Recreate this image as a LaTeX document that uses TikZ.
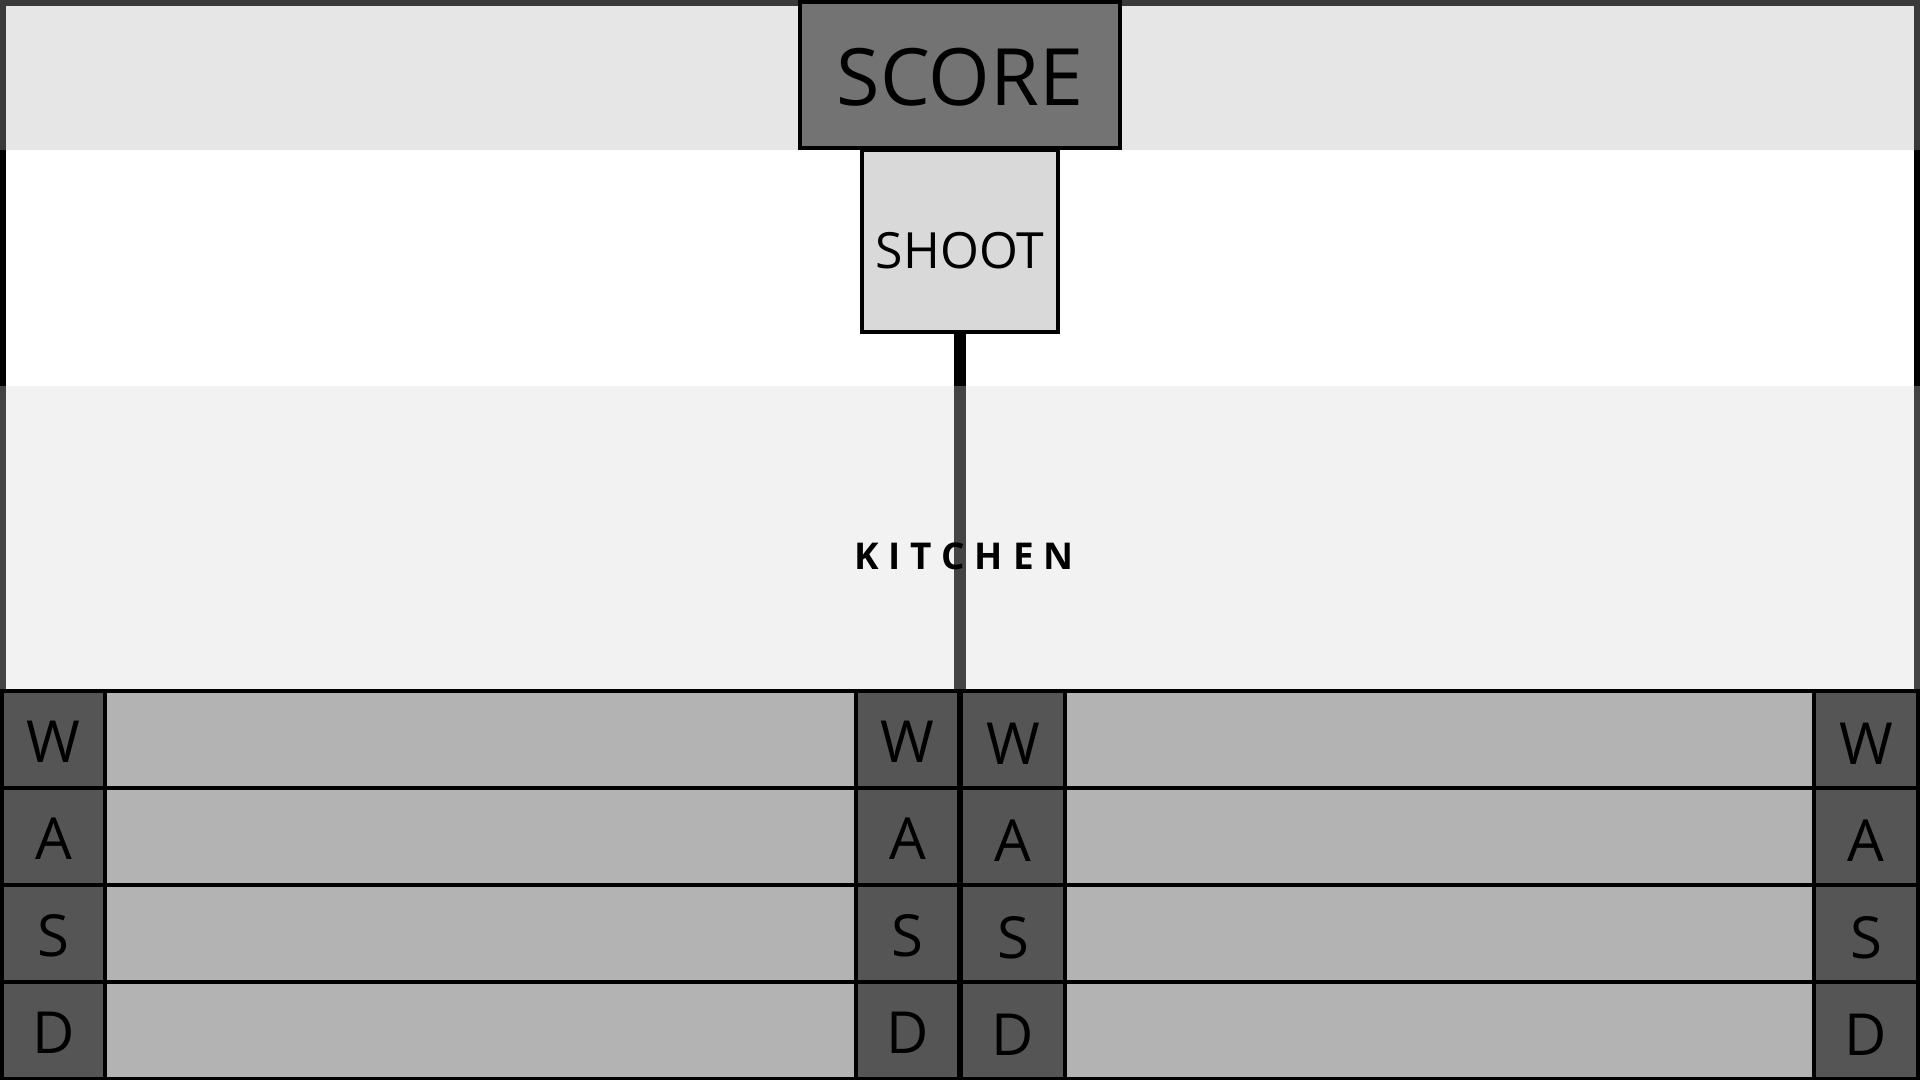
\documentclass[tikz,border=0pt]{standalone}
\usepackage{fontspec}
\setmainfont{Open Sans}
\newfontfamily\kitchenfont{Open Sans}[LetterSpace=27]
\definecolor{edgetop}{HTML}{3A3A3A}
\definecolor{edgemid}{HTML}{444444}
\definecolor{topband}{HTML}{E6E6E6}
\definecolor{kitband}{HTML}{F2F2F2}
\definecolor{scorefill}{HTML}{737373}
\definecolor{shootfill}{HTML}{D9D9D9}
\definecolor{keyfill}{HTML}{555555}
\definecolor{barfill}{HTML}{B3B3B3}
\begin{document}
\begin{tikzpicture}[x=0.01cm,y=-0.01cm,
  cell/.style={draw=black, line width=0.035cm, inner sep=0pt, minimum height=0.97cm},
  keycell/.style={cell, fill=keyfill},
  barcell/.style={cell, fill=barfill},
  keylabel/.style={inner sep=0pt, font=\fontsize{16.5}{19}\selectfont},
  bigbox/.style={draw=black, line width=0.035cm, inner sep=0pt},
  stem/.style={line width=0.12cm}
]
\useasboundingbox (0,0) rectangle (1920,1080);
% bands
\fill[topband] (0,0) rectangle (1920,150);
\fill[edgetop] (0,0) rectangle (1920,6);
\fill[edgetop] (0,0) rectangle (6,150);
\fill[edgetop] (1914,0) rectangle (1920,150);
\fill[white] (0,150) rectangle (1920,386);
\fill[black] (0,150) rectangle (6,386);
\fill[black] (1914,150) rectangle (1920,386);
\fill[kitband] (0,386) rectangle (1920,691);
\fill[edgemid] (0,386) rectangle (6,691);
\fill[edgemid] (1914,386) rectangle (1920,691);
% shoot box and stem
\node[bigbox, fill=shootfill, minimum width=1.96cm, minimum height=1.82cm] (shoot) at (960,241) {};
\node (shoottext) at (960,250.5) {\fontsize{14.2}{17}\selectfont SHOOT};
\coordinate (stemmid) at (960,386);
\coordinate (stemend) at (960,691);
\draw[stem, black] (shoot.south) -- (stemmid);
\draw[stem, edgemid] (stemmid) -- (stemend);
% score
\node[bigbox, fill=scorefill, minimum width=3.2cm, minimum height=1.46cm] (score) at (960,75) {};
\node (scoretext) at (960,77) {\fontsize{22.5}{26}\selectfont SCORE};
% grid
\foreach \l [count=\i] in {W,A,S,D} {
  \pgfmathsetmacro\cy{691+97*(\i-0.5)}
  \pgfmathsetmacro\ly{\cy+2}
  \pgfmathsetmacro\ry{\cy+4}
  \node[keycell, minimum width=1.03cm] (lk1-\l) at (53.5,\cy) {};
  \node[barcell, minimum width=7.51cm] (lbar-\l) at (480.5,\cy) {};
  \node[keycell, minimum width=1.03cm] (lk2-\l) at (907.5,\cy) {};
  \node[keycell, minimum width=1.04cm] (rk1-\l) at (1013,\cy) {};
  \node[barcell, minimum width=7.49cm] (rbar-\l) at (1439.5,\cy) {};
  \node[keycell, minimum width=1.04cm] (rk2-\l) at (1866,\cy) {};
  \node[keylabel] (lk1t-\l) at (53.5,\ly) {\l};
  \node[keylabel] (lk2t-\l) at (907.5,\ly) {\l};
  \node[keylabel] (rk1t-\l) at (1013,\ry) {\l};
  \node[keylabel] (rk2t-\l) at (1866,\ry) {\l};
}
% kitchen label
\node (kitchen) at (964,556) {\kitchenfont\bfseries\fontsize{10.5}{12}\selectfont KITCHEN};
\end{tikzpicture}
\end{document}
